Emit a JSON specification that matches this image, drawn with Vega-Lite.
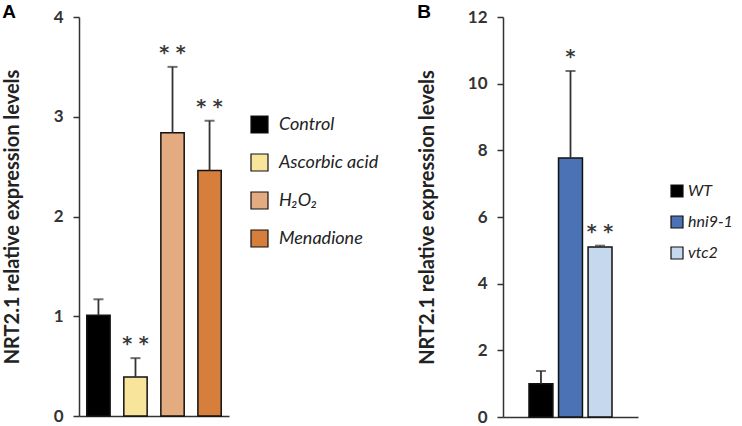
{
  "$schema": "https://vega.github.io/schema/vega-lite/v6.json",
  "padding": {"left": 2, "top": 3, "right": 0, "bottom": 0},
  "background": "white",
  "spacing": 38,
  "config": {
    "view": {"stroke": null},
    "axisY": {
      "grid": false,
      "format": "d",
      "domainColor": "#333",
      "domainWidth": 1.5,
      "tickColor": "#333",
      "tickWidth": 1.5,
      "tickSize": 6,
      "labelFont": "Lato",
      "labelFontSize": 17,
      "labelFontWeight": "bold",
      "labelColor": "#333",
      "labelPadding": 10,
      "titleFont": "Lato",
      "titleFontSize": 20,
      "titleFontWeight": "bold",
      "titleColor": "#222"
    },
    "axisX": {
      "title": null,
      "labels": false,
      "ticks": false,
      "domainColor": "#333",
      "domainWidth": 1.5
    },
    "legend": {
      "labelFont": "Lato",
      "labelFontStyle": "italic",
      "labelColor": "#222",
      "symbolType": "square",
      "symbolStrokeColor": "#111",
      "symbolStrokeWidth": 1.2,
      "symbolOpacity": 1,
      "title": null
    },
    "title": {"font": "Liberation Sans", "fontWeight": "bold", "fontSize": 19, "color": "#000", "anchor": "start", "frame": "bounds"}
  },
  "resolve": {"scale": {"x": "independent", "y": "independent", "color": "independent"}, "legend": {"color": "independent"}},
  "hconcat": [
    {
      "title": {"text": "A", "offset": -14},
      "width": 150,
      "height": 399,
      "data": {"values": [
        {"g": "Control", "v": 1.01, "e": 1.17, "s": ""},
        {"g": "Ascorbic acid", "v": 0.39, "e": 0.58, "s": "* *"},
        {"g": "H₂O₂", "v": 2.84, "e": 3.5, "s": "* *"},
        {"g": "Menadione", "v": 2.46, "e": 2.96, "s": "* *"}
      ]},
      "encoding": {
        "x": {"field": "g", "type": "nominal", "sort": null, "scale": {"paddingInner": 0.37, "paddingOuter": 0.21}}
      },
      "layer": [
        {
          "mark": {"type": "bar", "stroke": "#111", "strokeWidth": 1.5},
          "encoding": {
            "y": {"field": "v", "type": "quantitative", "scale": {"domain": [0, 4]},
                  "axis": {"values": [0, 1, 2, 3, 4], "title": "NRT2.1 relative expression levels", "titlePadding": 31}},
            "color": {"field": "g", "type": "nominal", "sort": null,
                      "scale": {"domain": ["Control", "Ascorbic acid", "H₂O₂", "Menadione"], "range": ["#000000", "#f8e49a", "#e5ab80", "#d67f3c"]},
                      "legend": {"orient": "none", "legendX": 171, "legendY": 98, "symbolSize": 289, "labelFontSize": 18, "rowPadding": 15, "labelOffset": 10}}
          }
        },
        {
          "mark": {"type": "rule", "color": "#333", "strokeWidth": 1.8},
          "encoding": {"y": {"field": "v", "type": "quantitative"}, "y2": {"field": "e"}}
        },
        {
          "mark": {"type": "tick", "color": "#333", "thickness": 2, "size": 10},
          "encoding": {"y": {"field": "e", "type": "quantitative"}}
        },
        {
          "mark": {"type": "text", "dy": -14, "fontSize": 19, "font": "DejaVu Sans", "fontWeight": "bold", "color": "#3a3a3a", "baseline": "middle"},
          "encoding": {"y": {"field": "e", "type": "quantitative"}, "text": {"field": "s"}}
        }
      ]
    },
    {
      "title": {"text": "B", "offset": -14},
      "width": 135,
      "height": 400,
      "data": {"values": [
        {"g": "WT", "v": 1.0, "e": 1.38, "s": ""},
        {"g": "hni9-1", "v": 7.77, "e": 10.38, "s": "*"},
        {"g": "vtc2", "v": 5.1, "e": 5.14, "s": "* *"}
      ]},
      "encoding": {
        "x": {"field": "g", "type": "nominal", "sort": null, "scale": {"paddingInner": 0.19, "paddingOuter": 0.88}}
      },
      "layer": [
        {
          "mark": {"type": "bar", "stroke": "#111", "strokeWidth": 1.5},
          "encoding": {
            "y": {"field": "v", "type": "quantitative", "scale": {"domain": [0, 12]},
                  "axis": {"values": [0, 2, 4, 6, 8, 10, 12], "title": "NRT2.1 relative expression levels", "titlePadding": 30}},
            "color": {"field": "g", "type": "nominal", "sort": null,
                      "scale": {"domain": ["WT", "hni9-1", "vtc2"], "range": ["#000000", "#4a72b5", "#c5d8ee"]},
                      "legend": {"orient": "none", "legendX": 166, "legendY": 166, "symbolSize": 144, "labelFontSize": 16, "rowPadding": 13, "labelOffset": 3}}
          }
        },
        {
          "mark": {"type": "rule", "color": "#333", "strokeWidth": 1.8},
          "encoding": {"y": {"field": "v", "type": "quantitative"}, "y2": {"field": "e"}}
        },
        {
          "mark": {"type": "tick", "color": "#333", "thickness": 2, "size": 10},
          "encoding": {"y": {"field": "e", "type": "quantitative"}}
        },
        {
          "mark": {"type": "text", "dy": -14, "fontSize": 19, "font": "DejaVu Sans", "fontWeight": "bold", "color": "#3a3a3a", "baseline": "middle"},
          "encoding": {"y": {"field": "e", "type": "quantitative"}, "text": {"field": "s"}}
        }
      ]
    }
  ]
}
